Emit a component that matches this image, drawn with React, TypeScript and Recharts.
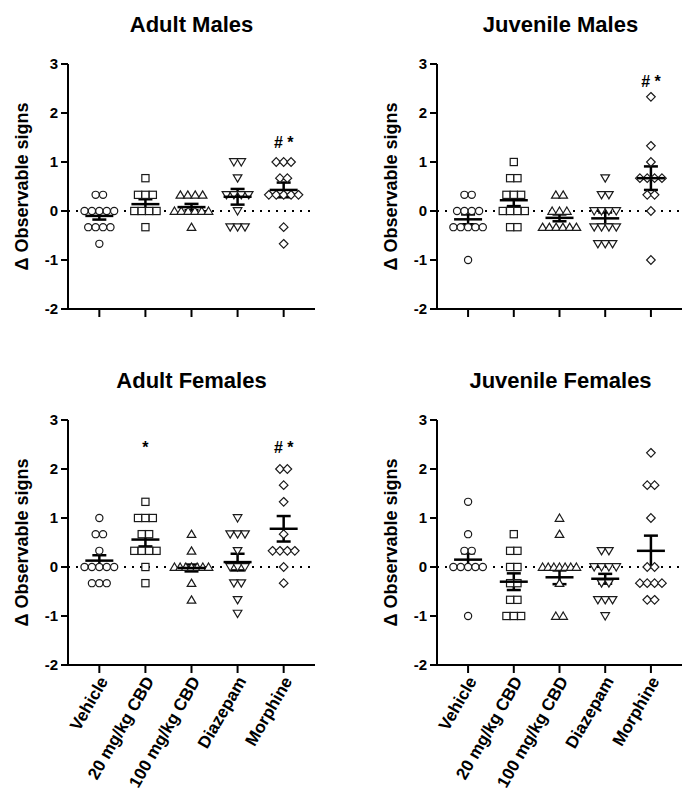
import React from 'react';
import { ScatterChart, Scatter, XAxis, YAxis, ReferenceLine, ErrorBar } from 'recharts';

const groups = ['Vehicle', '20 mg/kg CBD', '100 mg/kg CBD', 'Diazepam', 'Morphine'];
const yTicks = [-2, -1, 0, 1, 2, 3];

// Adult males
const amVehicle = [0.33, 0.33, 0, 0, 0, 0, 0, -0.33, -0.33, -0.33, -0.33, -0.67];
const am20 = [0.67, 0.33, 0.33, 0.33, 0, 0, 0, 0, -0.33];
const am100 = [0.33, 0.33, 0.33, 0.33, 0, 0, 0, 0, 0, 0, -0.33];
const amDiaz = [1, 1, 0.67, 0.33, 0.33, 0.33, 0.33, 0, -0.33, -0.33, -0.33];
const amMorph = [1, 1, 1, 0.67, 0.67, 0.33, 0.33, 0.33, 0.33, 0.33, -0.33, -0.67];
const amMeans = [-0.1, 0.14, 0.08, 0.29, 0.43];
const amSem = [0.075, 0.1, 0.065, 0.16, 0.15];
const amMarks = [{ group: 4, y: 1.4, text: '# *' }];

// Juvenile males
const jmVehicle = [0.33, 0.33, 0, 0, 0, 0, -0.33, -0.33, -0.33, -0.33, -0.33, -1];
const jm20 = [1, 0.67, 0.67, 0.33, 0.33, 0.33, 0, 0, 0, 0, -0.33, -0.33];
const jm100 = [0.33, 0.33, 0, 0, 0, -0.33, -0.33, -0.33, -0.33, -0.33, -0.33];
const jmDiaz = [0.67, 0.33, 0.33, 0, 0, 0, 0, -0.33, -0.33, -0.33, -0.33, -0.67, -0.67, -0.67];
const jmMorph = [2.33, 1.33, 1, 0.67, 0.67, 0.67, 0.67, 0.33, 0.33, 0, -1];
const jmMeans = [-0.17, 0.22, -0.14, -0.15, 0.67];
const jmSem = [0.1, 0.12, 0.07, 0.12, 0.24];
const jmMarks = [{ group: 4, y: 2.65, text: '# *' }];

// Adult females
const afVehicle = [1, 0.67, 0.67, 0.33, 0, 0, 0, 0, 0, -0.33, -0.33, -0.33];
const af20 = [1.33, 1, 1, 1, 0.67, 0.67, 0.33, 0.33, 0.33, 0.33, 0, -0.33];
const af100 = [0.67, 0.33, 0, 0, 0, 0, 0, 0, 0, -0.33, -0.67];
const afDiaz = [1, 0.67, 0.67, 0.67, 0.33, 0, 0, 0, -0.33, -0.33, -0.67, -0.95];
const afMorph = [2, 2, 1.67, 1.33, 0.67, 0.33, 0.33, 0.33, 0.33, 0, -0.33];
const afMeans = [0.13, 0.56, -0.02, 0.1, 0.78];
const afSem = [0.11, 0.14, 0.07, 0.17, 0.26];
const afMarks = [
  { group: 1, y: 2.45, text: '*' },
  { group: 4, y: 2.45, text: '# *' },
];

// Juvenile females
const jfVehicle = [1.33, 0.67, 0.33, 0.33, 0, 0, 0, 0, 0, -1];
const jf20 = [0.67, 0.33, 0.33, 0, 0, -0.33, -0.33, -0.67, -0.67, -1, -1, -1];
const jf100 = [1, 0.67, 0, 0, 0, 0, 0, 0, 0, -0.33, -1, -1];
const jfDiaz = [0.33, 0.33, 0, 0, 0, 0, -0.33, -0.33, -0.67, -0.67, -0.67, -1];
const jfMorph = [2.33, 1.67, 1.67, 1, 0, 0, -0.33, -0.33, -0.33, -0.33, -0.67, -0.67];
const jfMeans = [0.15, -0.3, -0.21, -0.24, 0.33];
const jfSem = [0.13, 0.17, 0.14, 0.1, 0.31];
const jfMarks: { group: number; y: number; text: string }[] = [];

const FONT = '"Liberation Sans", Arial, sans-serif';
const UNIT_PX = 46;
const kinds = ['circle', 'square', 'up', 'down', 'diamond'];

// spread tied values side by side like a dot plot
const buildPoints = (values: number[], g: number) => {
  const counts = new Map<number, number>();
  values.forEach((v) => counts.set(v, (counts.get(v) || 0) + 1));
  const seen = new Map<number, number>();
  return values.map((v) => {
    const k = counts.get(v)!;
    const i = seen.get(v) || 0;
    seen.set(v, i + 1);
    const step = Math.min(7.4, 34 / Math.max(k - 1, 1));
    return { x: g + ((i - (k - 1) / 2) * step) / UNIT_PX, y: v };
  });
};

const Marker = ({ cx, cy, kind }: any) => {
  const s = { fill: '#fff', stroke: '#1a1a1a', strokeWidth: 1.2 };
  if (cx == null || cy == null) return null;
  switch (kind) {
    case 'circle':
      return <circle cx={cx} cy={cy} r={3.6} {...s} />;
    case 'square':
      return <rect x={cx - 3.6} y={cy - 3.6} width={7.2} height={7.2} {...s} />;
    case 'up':
      return <path d={`M${cx},${cy - 4} L${cx + 4.3},${cy + 3.3} L${cx - 4.3},${cy + 3.3} Z`} {...s} />;
    case 'down':
      return <path d={`M${cx},${cy + 4} L${cx + 4.3},${cy - 3.3} L${cx - 4.3},${cy - 3.3} Z`} {...s} />;
    default:
      return <path d={`M${cx},${cy - 4.3} L${cx + 4.3},${cy} L${cx},${cy + 4.3} L${cx - 4.3},${cy} Z`} {...s} />;
  }
};

const XTick = ({ x, y, payload }: any) => (
  <g transform={`translate(${x + 4},${y + 3})`}>
    <text
      x={0}
      y={0}
      dy="0.35em"
      textAnchor="end"
      transform="rotate(-60)"
      fill="#000"
      fontSize={17}
      fontWeight={700}
      fontFamily={FONT}
    >
      {groups[payload.value]}
    </text>
  </g>
);

interface PanelProps {
  title: string;
  series: number[][];
  means: number[];
  sems: number[];
  marks: { group: number; y: number; text: string }[];
  left: number;
  top: number;
  bottomRow: boolean;
}

const Panel: React.FC<PanelProps> = ({ title, series, means, sems, marks, left, top, bottomRow }) => {
  const isLeft = left === 0;
  const width = isLeft ? 340 : 342;
  const yW = isLeft ? 68 : 97;
  const xH = bottomRow ? 126 : 21;
  const height = 64 + 245 + xH;
  const meanData = means.map((m, i) => ({ x: i, y: m, err: sems[i] }));
  const markData = marks.map((m) => ({ x: m.group, y: m.y, text: m.text }));

  return (
    <div style={{ position: 'absolute', left, top, width, height }}>
      <div
        style={{
          position: 'absolute',
          left: yW,
          top: 14,
          width: 247,
          textAlign: 'center',
          fontFamily: FONT,
          fontWeight: 700,
          fontSize: 22,
          lineHeight: '22px',
          color: '#000',
        }}
      >
        {title}
      </div>
      <ScatterChart width={width} height={height} margin={{ top: 64, right: isLeft ? 25 : 0, bottom: 0, left: 0 }}>
        <XAxis
          type="number"
          dataKey="x"
          domain={[-0.68, 4.68]}
          ticks={[0, 1, 2, 3, 4]}
          interval={0}
          allowDataOverflow
          height={xH}
          tickSize={8}
          tickMargin={2}
          axisLine={{ stroke: '#000', strokeWidth: 2 }}
          tickLine={{ stroke: '#000', strokeWidth: 2 }}
          tick={bottomRow ? <XTick /> : () => <g />}
        />
        <YAxis
          type="number"
          dataKey="y"
          domain={[-2, 3]}
          ticks={yTicks}
          allowDataOverflow
          width={yW}
          tickSize={7}
          tickMargin={3}
          axisLine={{ stroke: '#000', strokeWidth: 2 }}
          tickLine={{ stroke: '#000', strokeWidth: 2 }}
          tick={{ fill: '#000', fontSize: 15, fontWeight: 700, fontFamily: FONT }}
          label={{
            value: 'Δ Observable signs',
            angle: -90,
            position: 'center',
            dx: isLeft ? -12 : 2,
            fill: '#000',
            fontSize: 18,
            fontWeight: 700,
            fontFamily: FONT,
          }}
        />
        <ReferenceLine y={0} stroke="#000" strokeWidth={2} strokeDasharray="2 6" />
        {series.map((vals, g) => (
          <Scatter
            key={groups[g]}
            data={buildPoints(vals, g)}
            isAnimationActive={false}
            shape={(p: any) => <Marker cx={p.cx} cy={p.cy} kind={kinds[g]} />}
          />
        ))}
        <Scatter
          data={meanData}
          isAnimationActive={false}
          shape={(p: any) => (
            <line x1={p.cx - 14} x2={p.cx + 14} y1={p.cy} y2={p.cy} stroke="#000" strokeWidth={2.5} />
          )}
        >
          <ErrorBar dataKey="err" direction="y" width={7} stroke="#000" strokeWidth={2.5} />
        </Scatter>
        <Scatter
          data={markData}
          isAnimationActive={false}
          shape={(p: any) => (
            <text
              x={p.cx}
              y={p.cy}
              dy="0.35em"
              textAnchor="middle"
              fill="#000"
              fontSize={16}
              fontWeight={700}
              fontFamily={FONT}
            >
              {p.payload.text}
            </text>
          )}
        />
      </ScatterChart>
    </div>
  );
};

export default function App() {
  return (
    <div style={{ position: 'absolute', left: 0, top: 0, width: 682, height: 791, background: '#fff' }}>
      <Panel
        title="Adult Males"
        series={[amVehicle, am20, am100, amDiaz, amMorph]}
        means={amMeans}
        sems={amSem}
        marks={amMarks}
        left={0}
        top={0}
        bottomRow={false}
      />
      <Panel
        title="Juvenile Males"
        series={[jmVehicle, jm20, jm100, jmDiaz, jmMorph]}
        means={jmMeans}
        sems={jmSem}
        marks={jmMarks}
        left={340}
        top={0}
        bottomRow={false}
      />
      <Panel
        title="Adult Females"
        series={[afVehicle, af20, af100, afDiaz, afMorph]}
        means={afMeans}
        sems={afSem}
        marks={afMarks}
        left={0}
        top={356}
        bottomRow
      />
      <Panel
        title="Juvenile Females"
        series={[jfVehicle, jf20, jf100, jfDiaz, jfMorph]}
        means={jfMeans}
        sems={jfSem}
        marks={jfMarks}
        left={340}
        top={356}
        bottomRow
      />
    </div>
  );
}
